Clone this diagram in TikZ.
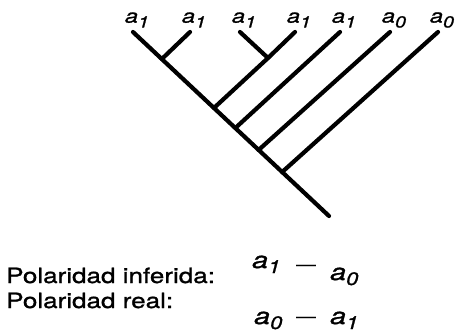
\documentclass[tikz,border=0pt]{standalone}
\usepackage{fontspec}
\setmainfont{TeX Gyre Heros}
\newfontfamily\legendfont[FakeStretch=1.24, FakeBold=1.2]{TeX Gyre Heros}
\usepackage{tikz}
\usetikzlibrary{calc}

\newcommand{\taxon}[1]{{\legendfont\fontsize{19}{19}\selectfont\itshape a\raisebox{-5pt}{\fontsize{16}{16}\selectfont #1}}}
\newcommand{\state}[1]{{\legendfont\fontsize{23}{23}\selectfont\itshape a\raisebox{-5pt}{\fontsize{18}{18}\selectfont #1}}}

\begin{document}
\begin{tikzpicture}[x=1pt, y=-1pt]
        \useasboundingbox (0,0) rectangle (465,334);
        \tikzset{branch/.style={line width=4.2pt, line cap=round}}
            \coordinate (l1) at (133,32);
            \coordinate (l2) at (190,32);
            \coordinate (l3) at (240,32);
            \coordinate (l4) at (295,32);
            \coordinate (l5) at (340,32);
            \coordinate (l6) at (390,32);
            \coordinate (l7) at (438,32);
            \coordinate (root) at (329,216);
            \coordinate (n12) at ($(l1)!0.147!(root)$);
            \coordinate (n4) at ($(l1)!0.413!(root)$);
            \coordinate (n5) at ($(l1)!0.522!(root)$);
            \coordinate (n6) at ($(l1)!0.641!(root)$);
            \coordinate (n7) at ($(l1)!0.761!(root)$);
            \coordinate (n34) at (268,58);
            \draw[branch] (l1) -- (root);
            \draw[branch] (l2) -- (n12);
            \draw[branch] (l3) -- (n34);
            \draw[branch] (l4) -- (n34) -- (n4);
            \draw[branch] (l5) -- (n5);
            \draw[branch] (l6) -- (n6);
            \draw[branch] (l7) -- (n7);
        \foreach \leaf/\st in {l1/1, l2/1, l3/1, l4/1, l5/1, l6/0, l7/0} {
            \node (t\leaf) at ($(\leaf)+(4,-12)$) {\taxon{\st}};
        }
            \node[anchor=base west, inner sep=0pt] (inf) at (6,283) {\legendfont\fontsize{21}{21}\selectfont Polaridad inferida:};
            \node[anchor=base west, inner sep=0pt] (real) at (6,308) {\legendfont\fontsize{21}{21}\selectfont Polaridad real:};
            \node[anchor=base west, inner sep=0pt] (ia) at (252,268) {\state{1}};
            \node[inner sep=0pt] (ib) at (306,268) {\fontsize{20}{20}\selectfont —};
            \node[anchor=base west, inner sep=0pt] (ic) at (330,280) {\state{0}};
            \node[anchor=base west, inner sep=0pt] (ra) at (254,324) {\state{0}};
            \node[inner sep=0pt] (rb) at (306,320) {\fontsize{20}{20}\selectfont —};
            \node[anchor=base west, inner sep=0pt] (rc) at (330,324) {\state{1}};
    \end{tikzpicture}
\end{document}
